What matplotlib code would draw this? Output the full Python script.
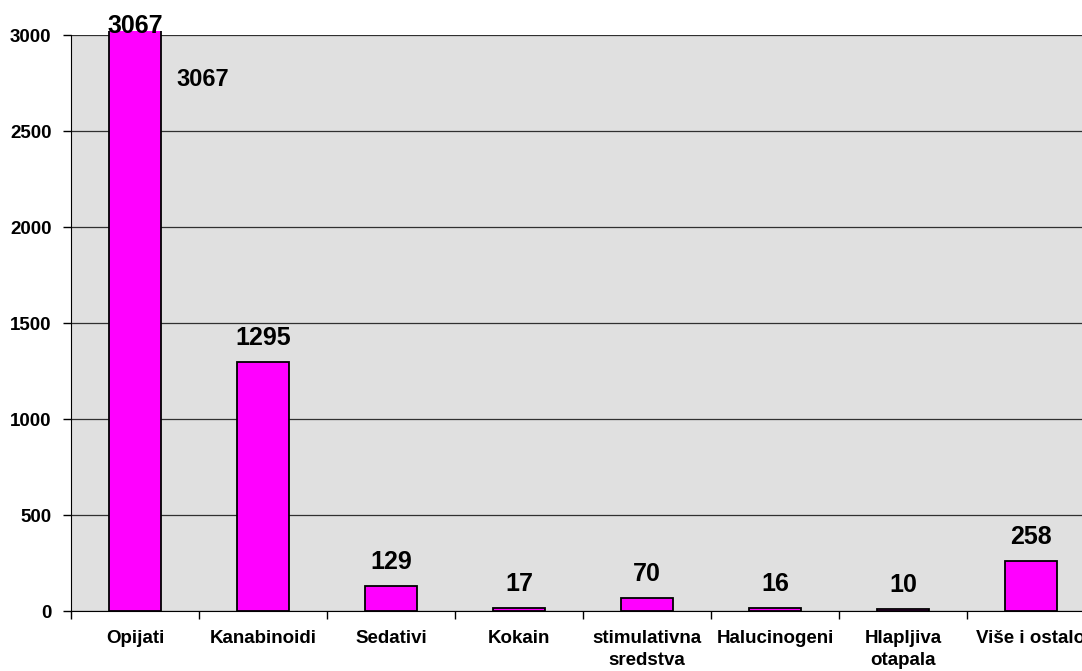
import matplotlib
matplotlib.use("Agg")
import matplotlib.pyplot as plt
from matplotlib.ticker import FixedLocator
from matplotlib.patches import Rectangle

categories = ["Opijati", "Kanabinoidi", "Sedativi", "Kokain",
              "stimulativna\nsredstva", "Halucinogeni", "Hlapljiva\notapala",
              "Više i ostalo"]
values = [3067, 1295, 129, 17, 70, 16, 10, 258]
yticks = [0, 500, 1000, 1500, 2000, 2500, 3000]

plt.rcParams["font.family"] = ["Liberation Sans", "DejaVu Sans"]
plt.rcParams["font.weight"] = "bold"

W, H = 1082, 671
fig = plt.figure(figsize=(W / 100, H / 100), dpi=100)
ax = fig.add_axes([71 / W, 60 / H, 1024 / W, 576 / H])
ax.set_facecolor("#e0e0e0")

x = list(range(len(categories)))
bars = ax.bar(x, values, width=0.4, color="#ff00ff", edgecolor="black",
              linewidth=1.3, zorder=3, clip_on=False)

# the tall bar pokes only a few pixels above the plot area
clip = Rectangle((0, 0), 1, 1 + 4 / 576, transform=ax.transAxes,
                 facecolor="none", edgecolor="none")
ax.add_patch(clip)
bars[0].set_clip_on(True)
bars[0].set_clip_path(clip)

ax.set_xlim(-0.5, len(categories) - 0.5)
ax.set_ylim(0, 3000)
ax.set_yticks(yticks)
ax.set_yticklabels([str(t) for t in yticks], fontsize=13.5, fontweight="bold")
ax.yaxis.grid(True, color="#303030", linewidth=0.9, zorder=0)
ax.set_axisbelow(True)

# category labels centred, tick marks between categories
ax.set_xticks(x)
ax.set_xticklabels(categories, fontsize=13.5, fontweight="bold", linespacing=1.35)
ax.tick_params(axis="x", length=0, pad=14)
ax.xaxis.set_minor_locator(FixedLocator([i - 0.5 for i in range(len(categories) + 1)]))
ax.tick_params(axis="x", which="minor", length=6, width=1, color="black")
ax.tick_params(axis="y", length=6, width=1, color="black", pad=8)

for s in ["top", "right"]:
    ax.spines[s].set_visible(False)
ax.spines["left"].set_color("black")
ax.spines["bottom"].set_color("black")

for xi, v in zip(x[1:], values[1:]):
    ax.annotate(str(v), (xi, v), xytext=(0, 12), textcoords="offset pixels",
                ha="center", va="bottom", fontsize=18, fontweight="bold")

# Opijati label sits on the top edge, plus a second copy beside the bar
ax.annotate(str(values[0]), (0, 3000), xytext=(0, 2), textcoords="offset pixels",
            ha="center", va="baseline", fontsize=18, fontweight="bold",
            annotation_clip=False, zorder=5)
ax.text(0.53, 2766, str(values[0]), ha="center", va="center",
        fontsize=17, fontweight="bold")

fig.savefig("out.png", dpi=100)
